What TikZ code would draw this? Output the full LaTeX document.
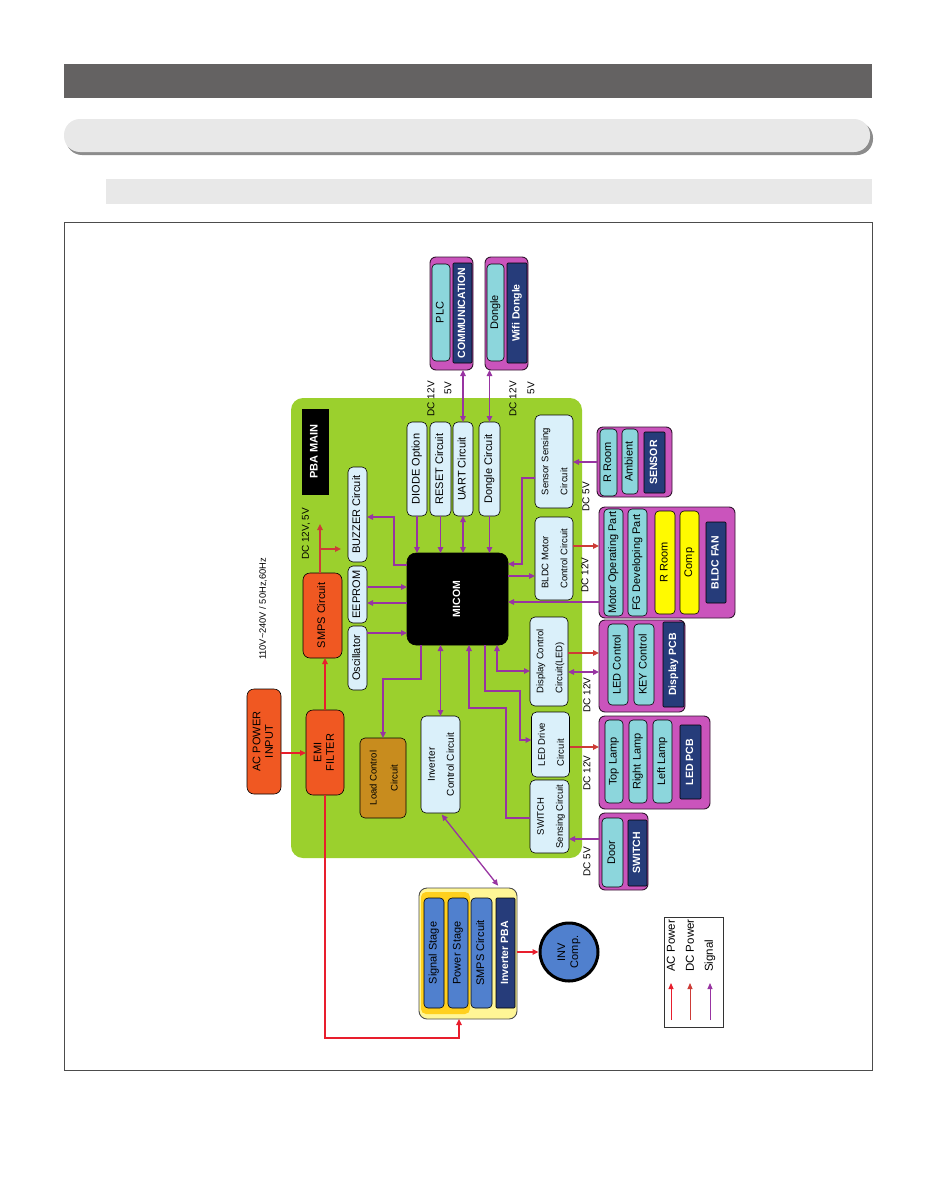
\documentclass[tikz,border=0pt]{standalone}
\usepackage{fontspec}
\setmainfont{Liberation Sans}
\usetikzlibrary{arrows.meta,calc}
\definecolor{hdark}{RGB}{100,98,98}
\definecolor{hlight}{RGB}{232,232,232}
\definecolor{hshadow}{RGB}{140,140,140}
\definecolor{board}{RGB}{155,208,45}
\definecolor{lblue}{RGB}{218,240,250}
\definecolor{orng}{RGB}{240,88,34}
\definecolor{brwn}{RGB}{200,140,30}
\definecolor{magb}{RGB}{202,84,188}
\definecolor{cyanb}{RGB}{140,214,220}
\definecolor{navyb}{RGB}{38,60,122}
\definecolor{yelb}{RGB}{255,250,0}
\definecolor{bluest}{RGB}{80,128,206}
\definecolor{pbay}{RGB}{255,246,150}
\definecolor{pbag}{RGB}{255,208,30}
\definecolor{acred}{RGB}{232,30,45}
\definecolor{dcred}{RGB}{205,60,55}
\definecolor{sigp}{RGB}{152,52,162}
\newcommand{\rtxt}[1]{\rotatebox{90}{\begin{tabular}{@{}c@{}}#1\end{tabular}}}
\newcommand{\rtxl}[1]{\rotatebox{90}{\begin{tabular}{@{}l@{}}#1\end{tabular}}}
\tikzset{
 bb/.style n args={4}{at={({(#1+#3)/2},{(#2+#4)/2})}, anchor=center, minimum width={#3-#1}, minimum height={#4-#2}},
 bx/.style={draw=black, line width=0.6pt, rounded corners=5pt, inner sep=0pt, outer sep=0pt},
 lb/.style={bx, fill=lblue, font=\fontsize{11}{13}\selectfont},
 lbt/.style={bx, fill=lblue, font=\fontsize{9.5}{19}\selectfont},
 orb/.style={bx, fill=orng, rounded corners=7pt, font=\fontsize{11}{12.5}\selectfont},
 grp/.style={bx, fill=magb, draw=black!75!magb, line width=0.9pt, rounded corners=6pt},
 cyb/.style={bx, fill=cyanb, rounded corners=4pt, font=\fontsize{11}{13}\selectfont},
 ylb/.style={bx, fill=yelb, rounded corners=4pt, font=\fontsize{11}{13}\selectfont},
 nvb/.style={bx, fill=navyb, rounded corners=1pt, text=white, font=\fontsize{10.5}{13}\bfseries\selectfont},
 stb/.style={bx, fill=bluest, rounded corners=4pt, font=\fontsize{11}{13}\selectfont},
 sig/.style={draw=sigp, line width=1.3pt, ->},
 sigd/.style={draw=sigp, line width=1.3pt, <->},
 acp/.style={draw=acred, line width=1.6pt, ->},
 dcp/.style={draw=dcred, line width=1.6pt, ->},
 lab/.style={inner sep=0pt, font=\fontsize{10}{12}\selectfont},
}
\begin{document}
\begin{tikzpicture}[x=1pt,y=-1pt,>={Triangle[length=6pt,width=5.5pt]}]
\useasboundingbox (0,0) rectangle (935,1191);
\fill[white] (0,0) rectangle (935,1191);
% header bars
\fill[hdark] (64,64) rectangle (872,98);
\fill[hshadow, rounded corners=16pt] (66,122) rectangle (873,155);
\fill[hlight, rounded corners=16pt] (64,119) rectangle (870,152);
\fill[hlight] (106,179) rectangle (872,204);
\draw[black!70, line width=0.7pt] (64,222) rectangle (872,1070);
% main board
\fill[board, rounded corners=12pt] (291,398) rectangle (582,858);
\node[bx, fill=black, rounded corners=0pt, text=white, font=\fontsize{11}{13}\bfseries\selectfont, bb={302}{409}{328}{494}] (pbamain) {\rtxt{PBA MAIN}};
\node[lb, bb={348}{467}{367}{562}] (buzzer) {\rtxt{BUZZER Circuit}};
\node[lb, bb={348}{566}{367}{623}] (eeprom) {\rtxt{EEPROM}};
\node[lb, bb={348}{626}{367}{690}] (osc) {\rtxt{Oscillator}};
\node[orb, bb={303}{573}{342}{658}] (smps) {\rtxt{SMPS Circuit}};
\node[orb, bb={306}{710}{344}{795}] (emi) {\rtxt{EMI\\FILTER}};
\node[orb, bb={247}{689}{281}{794}] (acin) {\rtxt{AC POWER\\INPUT}};
\node[bx, fill=brwn, font=\fontsize{9.5}{21}\selectfont, bb={360}{738}{406}{818}] (load) {\rtxt{Load Control\\Circuit}};
\node[lbt, font=\fontsize{10}{19}\selectfont, bb={421}{716}{460}{813}] (invc) {\rtxt{Inverter\\Control Circuit}};
\node[bx, fill=black, rounded corners=9pt, text=white, font=\fontsize{10.5}{13}\bfseries\selectfont, bb={407}{553}{508}{645}] (micom) {\rtxt{MICOM}};
\node[lb, bb={407}{422}{427}{516}] (diode) {\rtxt{DIODE Option}};
\node[lb, bb={430}{422}{451}{516}] (reset) {\rtxt{RESET Circuit}};
\node[lb, bb={453}{422}{473}{516}] (uart) {\rtxt{UART Circuit}};
\node[lb, bb={479}{422}{500}{516}] (dongc) {\rtxt{Dongle Circuit}};
\node[lbt, bb={535}{415}{573}{508}] (sens) {\rtxl{Sensor Sensing\\Circuit}};
\node[lbt, bb={535}{517}{573}{600}] (bldc) {\rtxl{BLDC Motor\\Control Circuit}};
\node[lbt, bb={530}{617}{568}{706}] (disp) {\rtxl{Display Control\\Circuit(LED)}};
\node[lbt, bb={532}{712}{569}{777}] (ledd) {\rtxl{LED Drive\\Circuit}};
\node[lbt, bb={530}{780}{569}{853}] (swc) {\rtxt{SWITCH\\Sensing Circuit}};
% external groups
\node[grp, bb={430}{257}{473}{370}] (commgrp) {};
\node[cyb, bb={432}{264}{450}{361}] (plc) {\rtxt{PLC}};
\node[nvb, bb={453}{263}{472}{363}] (commlab) {\rtxt{COMMUNICATION}};
\node[grp, bb={485}{257}{528}{370}] (wifigrp) {};
\node[cyb, bb={487}{264}{504}{361}] (dongle) {\rtxt{Dongle}};
\node[nvb, bb={507}{263}{527}{363}] (wifilab) {\rtxt{Wifi Dongle}};
\node[grp, bb={597}{427}{672}{497}] (sensorgrp) {};
\node[cyb, bb={600}{429}{617}{496}] (rroom1) {\rtxt{R Room}};
\node[cyb, bb={622}{429}{638}{494}] (ambient) {\rtxt{Ambient}};
\node[nvb, bb={644}{432}{665}{493}] (sensorlab) {\rtxt{SENSOR}};
\node[grp, bb={599}{507}{735}{618}] (fan) {};
\node[cyb, bb={604}{509}{623}{616}] (motor) {\rtxt{Motor Operating Part}};
\node[cyb, bb={628}{509}{647}{616}] (fg) {\rtxt{FG Developing Part}};
\node[ylb, bb={655}{511}{675}{614}] (rroom2) {\rtxt{R Room}};
\node[ylb, bb={680}{511}{699}{614}] (comp) {\rtxt{Comp}};
\node[nvb, bb={706}{522}{726}{603}] (fanlab) {\rtxt{BLDC FAN}};
\node[grp, bb={599}{620}{685}{712}] (disppcb) {};
\node[cyb, bb={608}{624}{628}{705}] (ledctl) {\rtxt{LED Control}};
\node[cyb, bb={634}{624}{654}{705}] (keyctl) {\rtxt{KEY Control}};
\node[nvb, bb={663}{622}{684}{707}] (displab) {\rtxt{Display PCB}};
\node[grp, bb={599}{716}{710}{809}] (ledpcb) {};
\node[cyb, bb={605}{720}{623}{803}] (toplamp) {\rtxt{Top Lamp}};
\node[cyb, bb={629}{720}{647}{803}] (rightlamp) {\rtxt{Right Lamp}};
\node[cyb, bb={653}{720}{672}{803}] (leftlamp) {\rtxt{Left Lamp}};
\node[nvb, bb={680}{725}{701}{799}] (ledlab) {\rtxt{LED PCB}};
\node[grp, bb={599}{813}{648}{890}] (switchgrp) {};
\node[cyb, bb={602}{818}{623}{887}] (door) {\rtxt{Door}};
\node[nvb, bb={628}{820}{647}{886}] (switchlab) {\rtxt{SWITCH}};
% inverter PBA
\node[bx, fill=pbay, draw=black!70, line width=0.9pt, rounded corners=8pt, bb={419}{888}{517}{1019}] (invgrp) {};
\fill[pbag, rounded corners=5pt] (421,892) rectangle (470,1014);
\node[stb, bb={424}{898}{444}{1008}] (sigst) {\rtxt{Signal Stage}};
\node[stb, bb={448}{898}{468}{1008}] (powst) {\rtxt{Power Stage}};
\node[stb, bb={471}{898}{492}{1008}] (smpsinv) {\rtxt{SMPS Circuit}};
\node[nvb, bb={496}{898}{515}{1008}] (invlab) {\rtxt{Inverter PBA}};
\node[circle, draw=black, line width=3pt, fill=bluest, minimum size=58pt, inner sep=0pt, font=\fontsize{11}{13}\selectfont] (invcomp) at (569,952) {\rtxt{INV\\Comp.}};
% labels
\node[lab, font=\fontsize{9.3}{11}\selectfont] (acv) at (263,609) {\rotatebox{90}{110V\textasciitilde240V / 50Hz,60Hz}};
\node[lab] (dcsmps) at (306,534) {\rotatebox{90}{DC 12V, 5V}};
\node[lab, anchor=north] (dc1) at (431,381) {\rotatebox{90}{DC 12V}};
\node[lab, anchor=north] (v1) at (448,382) {\rotatebox{90}{5V}};
\node[lab, anchor=north] (dc2) at (513,381) {\rotatebox{90}{DC 12V}};
\node[lab, anchor=north] (v2) at (531,382) {\rotatebox{90}{5V}};
\node[lab] (dc3) at (586,497) {\rotatebox{90}{DC 5V}};
\node[lab] (dc4) at (585,575) {\rotatebox{90}{DC 12V}};
\node[lab] (dc5) at (587,695) {\rotatebox{90}{DC 12V}};
\node[lab] (dc6) at (587,773) {\rotatebox{90}{DC 12V}};
\node[lab] (dc7) at (587,862) {\rotatebox{90}{DC 5V}};
% AC power
\draw[acp] (acin.east |- 0,753) -- (emi.west |- 0,753);
\draw[acp] (emi.north) -- (emi.north |- smps.south);
\draw[acp] (emi.south) |- (459,1038) -- (459,1038 |- invgrp.south);
\draw[acp] (invgrp.east |- invcomp.west) -- (invcomp.west);
% DC power
\coordinate (dcup) at (320,524);
\coordinate (dcright) at (341,549);
\draw[dcp] (smps.north -| dcup) -- (dcup);
\draw[dcp] (dcup |- dcright) -- (dcright);
\draw[dcp] (bldc.east |- 0,546) -- (fan.west |- 0,546);
\draw[dcp] (disp.east |- 0,653) -- (disppcb.west |- 0,653);
\draw[dcp] (ledd.east |- 0,747) -- (ledpcb.west |- 0,747);
% signals
\draw[sig] (micom.west |- 0,565) -- (394,565) |- (buzzer.east |- 0,517);
\draw[sig] (eeprom.east |- 0,587) -- (micom.west |- 0,587);
\draw[sig] (micom.west |- 0,603) -- (eeprom.east |- 0,603);
\draw[sig] (osc.east |- 0,633) -- (micom.west |- 0,633);
\draw[sig] (diode.south) -- (diode.south |- micom.north);
\draw[sig] (reset.south) -- (reset.south |- micom.north);
\draw[sigd] (uart.south) -- (uart.south |- micom.north);
\draw[sig] (dongc.south) -- (dongc.south |- micom.north);
\draw[sigd] (uart.north) -- (uart.north |- commgrp.south);
\draw[sigd] (dongc.north) -- (dongc.north |- wifigrp.south);
\draw[sig] (sens.west |- 0,478) -| (522,564) -- (micom.east |- 0,564);
\draw[sig] (micom.east |- 0,576) -- (bldc.west |- 0,576);
\draw[sig] (fan.west |- 0,602) -- (micom.east |- 0,602);
\draw[sig] (sensorgrp.west |- 0,462) -- (sens.east |- 0,462);
\draw[sig] (micom.south -| 421,0) |- (383,679) -- (load.north);
\draw[sigd] (micom.south -| invc.north) -- (invc.north);
\draw[sig] (swc.west |- 0,818) -| (506,708) -| (micom.south -| 469,0);
\draw[sig] (micom.south -| 485,0) |- (520,691) |- (ledd.west |- 0,740);
\draw[sigd] (micom.south -| 497,0) |- (disp.west |- 0,671);
\draw[sigd] (disp.east |- 0,672) -- (disppcb.west |- 0,672);
\draw[sig] (switchgrp.west |- 0,839) -- (swc.east |- 0,839);
\draw[sigd, shorten >=3pt, shorten <=2pt] (invc.south) -- (invgrp.north -| 500,0);
% legend
\node[draw=black!80, line width=0.8pt, inner sep=0pt, bb={664}{917}{723}{1027}] (legend) {};
\node[lab, anchor=south, font=\fontsize{11.5}{13}\selectfont] (lt1) at (671,972) {\rotatebox{90}{AC Power}};
\node[lab, anchor=south, font=\fontsize{11.5}{13}\selectfont] (lt2) at (690,972) {\rotatebox{90}{DC Power}};
\node[lab, anchor=south, font=\fontsize{11.5}{13}\selectfont] (lt3) at (710,972) {\rotatebox{90}{Signal}};
\coordinate (la1) at (671,1020); \coordinate (la2) at (671,983);
\coordinate (lb1) at (690,1020); \coordinate (lb2) at (690,983);
\coordinate (lc1) at (710,1020); \coordinate (lc2) at (710,983);
\draw[draw=acred, line width=1pt, -{Triangle[length=6pt,width=5pt]}] (la1) -- (la2);
\draw[draw=dcred, line width=1pt, -{Triangle[length=6pt,width=5pt]}] (lb1) -- (lb2);
\draw[draw=sigp, line width=1pt, -{Triangle[length=6pt,width=5pt]}] (lc1) -- (lc2);
\end{tikzpicture}
\end{document}
